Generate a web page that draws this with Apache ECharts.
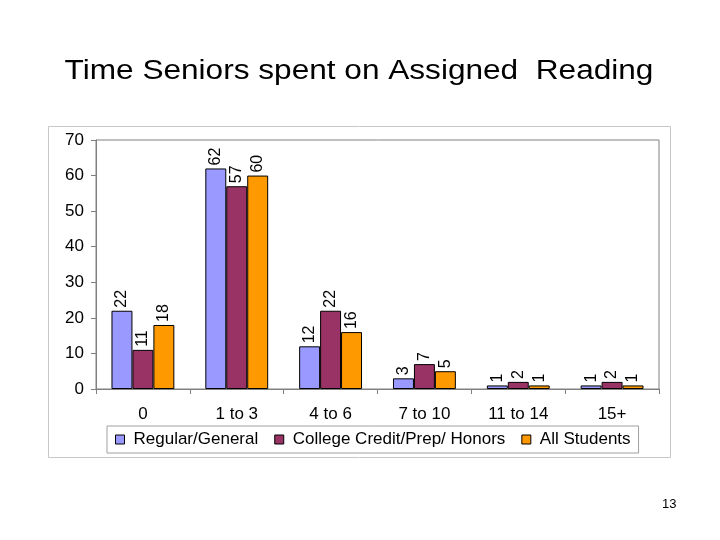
<!DOCTYPE html>
<html><head><meta charset="utf-8">
<script src="https://cdn.jsdelivr.net/npm/echarts@6/dist/echarts.min.js"></script>
<style>html,body{margin:0;padding:0;background:#fff;}#c{width:720px;height:540px;}</style>
</head><body><div id="c"></div>
<script>
const titleText = 'Time Seniors spent on Assigned  Reading';
const categories = ['0', '1 to 3', '4 to 6', '7 to 10', '11 to 14', '15+'];
const seriesNames = ['Regular/General', 'College Credit/Prep/ Honors', 'All Students'];
const regularGeneral = [22, 62, 12, 3, 1, 1];
const collegeHonors = [11, 57, 22, 7, 2, 2];
const allStudents = [18, 60, 16, 5, 1, 1];
const colors = ['#9999FF', '#993366', '#FF9900'];
const yTicks = [0, 10, 20, 30, 40, 50, 60, 70];

const chart = echarts.init(document.getElementById('c'));
const font = 'Liberation Sans, Arial, sans-serif';
function mk(name, data, color) {
  return {
    name, type: 'bar', data, barGap: '0%', barCategoryGap: '33%',
    itemStyle: { color, borderColor: '#000', borderWidth: 1 },
    label: { show: true, position: 'top', rotate: 90, align: 'left', verticalAlign: 'middle',
      distance: 3, color: '#000', fontSize: 16, fontFamily: font },
    animation: false
  };
}
chart.setOption({
  animation: false,
  graphic: [
    { type: 'text', x: 359, y: 72, scaleX: 1.17, scaleY: 1,
      style: { text: titleText, fontFamily: font, fontSize: 27, fill: '#000', textAlign: 'center', textVerticalAlign: 'middle' } },
    { type: 'rect', shape: { x: 48.5, y: 126.5, width: 622, height: 331 }, style: { fill: 'none', stroke: '#c8c8c8', lineWidth: 1 }, z: -1 },
    { type: 'text', left: 662, top: 498, style: { text: '13', fontFamily: font, fontSize: 13, fill: '#000' } }
  ],
  grid: { left: 96, right: 61, top: 140, bottom: 151, show: true, borderColor: '#808080', borderWidth: 1 },
  legend: {
    top: 426, left: 107, itemWidth: 9, itemHeight: 9, itemGap: 16,
    padding: [5, 8, 5, 8], borderColor: '#a0a0a0', borderWidth: 1, backgroundColor: '#fff',
    textStyle: { fontFamily: font, fontSize: 17, color: '#000', padding: [0, 0, 0, 4] },
    icon: 'rect',
    itemStyle: { borderColor: '#000', borderWidth: 1 },
    data: seriesNames
  },
  xAxis: {
    type: 'category', data: categories,
    axisLine: { lineStyle: { color: '#808080' } },
    axisTick: { show: true, length: 5, lineStyle: { color: '#808080' } },
    axisLabel: { fontFamily: font, fontSize: 17, color: '#000', margin: 17 }
  },
  yAxis: {
    type: 'value', min: 0, max: 70, interval: 10,
    axisLine: { show: true, lineStyle: { color: '#808080' } },
    axisTick: { show: true, length: 5, lineStyle: { color: '#808080' } },
    splitLine: { show: false },
    axisLabel: { fontFamily: font, fontSize: 17, color: '#000', margin: 12,
      formatter: v => yTicks.includes(v) ? String(v) : '' }
  },
  series: [
    mk(seriesNames[0], regularGeneral, colors[0]),
    mk(seriesNames[1], collegeHonors, colors[1]),
    mk(seriesNames[2], allStudents, colors[2])
  ]
});
</script></body></html>
